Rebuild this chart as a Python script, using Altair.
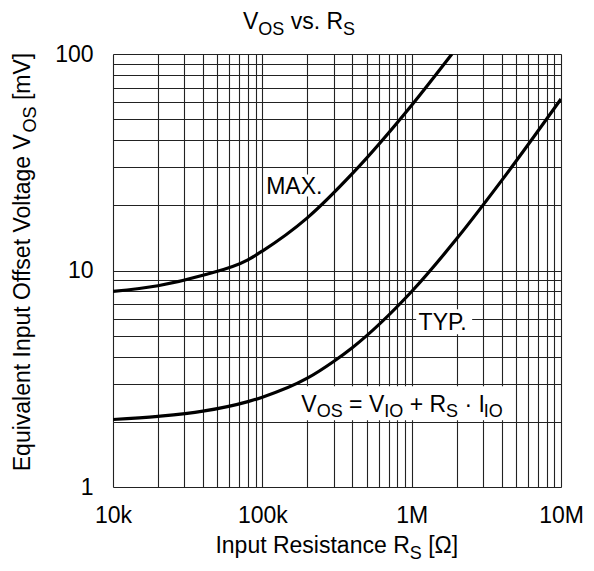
import altair as alt
import pandas as pd

# ---------------- data ----------------
typ_r = [1e4, 2e4, 4e4, 8e4, 1e5, 2e5, 3e5, 4e5, 1e6, 2e6, 4e6, 1e7]
typ_v = [2.05, 2.12, 2.24, 2.48, 2.6, 3.18, 3.8, 4.4, 8.0, 14.0, 26.0, 62.0]
max_r = [1e4, 2e4, 4e4, 8e4, 1e5, 2e5, 4e5, 1e6, 1.86e6]
max_v = [8.0, 8.5, 9.5, 11.2, 12.3, 17.5, 28.0, 58.0, 100.0]

x_grid = [m * 10 ** e for e in (4, 5, 6) for m in range(1, 10)] + [1e7]
y_grid = [m * 10 ** e for e in (0, 1) for m in range(1, 10)] + [100]
x_tick_vals = [1e4, 1e5, 1e6, 1e7]
x_tick_text = ["10k", "100k", "1M", "10M"]
y_tick_vals = [1, 10, 100]
y_tick_text = ["1", "10", "100"]

# annotation anchors (data space)
ann_max = (1.636e5, 24.7)
ann_typ = (1.65e6, 5.8)
ann_eq = (8.62e5, 2.44)

FONT = "Liberation Sans"
FS = 23
SUB = 18
SUB_DY = 5.5

W = {' ': 278, 'V': 667, 'O': 778, 'S': 667, 'v': 500, 's': 500, '.': 278, 'R': 722,
     'E': 667, 'q': 556, 'u': 556, 'i': 222, 'a': 556, 'l': 222, 'e': 556, 'n': 556,
     't': 278, 'I': 278, 'p': 556, 'f': 278, 'g': 556, '[': 278, ']': 278, 'm': 833,
     'Ω': 768, 'c': 500, '=': 584, '+': 584, '·': 278, 'M': 833, 'A': 667, 'X': 667,
     'T': 611, 'Y': 667, 'P': 667, 'k': 500, 'o': 556}


def tw(s, fs):
    return sum(W.get(c, 556) for c in s) * fs / 1000.0


def layout(segs):
    """Return drawn pieces (text without edge spaces, offset, size, sub) and total width."""
    out, off = [], 0.0
    for txt, sub in segs:
        fs = SUB if sub else FS
        lead = len(txt) - len(txt.lstrip(" "))
        core = txt.strip(" ")
        out.append((core, off + tw(" " * lead, fs), fs, sub))
        off += tw(txt, fs)
    return out, off


def ex(e):
    return " : ".join(f"datum.value == {v} ? '{t}'" for v, t in e) + " : ''"


# plot origin on page is (113, 54); plot size 448 x 433
PW, PH = 448, 433
OX, OY = 113, 54

base = alt.Chart(pd.DataFrame({"r": [1e4], "v": [1.0]}))

xscale = alt.Scale(type="log", domain=[1e4, 1e7], nice=False)
yscale = alt.Scale(type="log", domain=[1, 100], nice=False)

xaxis = alt.Axis(values=x_grid, labelExpr=ex(zip(x_tick_vals, x_tick_text)),
                 grid=True, gridColor="#222222", gridWidth=1.1, gridOpacity=1,
                 ticks=False, domain=False, labelFont=FONT, labelFontSize=FS,
                 labelColor="black", labelPadding=17, labelOverlap=False,
                 labelFlush=False, title=None)
yaxis = alt.Axis(values=y_grid, labelExpr=ex(zip(y_tick_vals, y_tick_text)),
                 grid=True, gridColor="#222222", gridWidth=1.1, gridOpacity=1,
                 ticks=False, domain=False, labelFont=FONT, labelFontSize=FS,
                 labelColor="black", labelPadding=20, labelOverlap=False,
                 labelFlush=False, title=None)

grid = base.mark_point(opacity=0).encode(
    x=alt.X("r:Q", scale=xscale, axis=xaxis),
    y=alt.Y("v:Q", scale=yscale, axis=yaxis),
)

curves = pd.DataFrame({
    "r": typ_r + max_r,
    "v": typ_v + max_v,
    "s": ["TYP"] * len(typ_r) + ["MAX"] * len(max_r),
})
lines = alt.Chart(curves).mark_line(color="black", strokeWidth=3.2,
                                    interpolate="monotone", clip=True).encode(
    x=alt.X("r:Q", scale=xscale),
    y=alt.Y("v:Q", scale=yscale),
    detail="s:N",
)

layers = [grid, lines]


def annotation(anchor, segs, box_w, box_h, dy_base):
    items, total = layout(segs)
    d = pd.DataFrame({"r": [anchor[0]], "v": [anchor[1]]})
    ch = alt.Chart(d)
    out = [ch.mark_rect(color="white", xOffset=-box_w / 2, x2Offset=box_w / 2,
                        yOffset=-box_h / 2, y2Offset=box_h / 2).encode(
        x=alt.X("r:Q", scale=xscale), x2="r:Q",
        y=alt.Y("v:Q", scale=yscale), y2="v:Q")]
    for txt, off, fs, sub in items:
        out.append(ch.mark_text(text=txt, font=FONT, fontSize=fs, color="black",
                                align="left", baseline="alphabetic",
                                dx=-total / 2 + off,
                                dy=dy_base + (SUB_DY if sub else 0)).encode(
            x=alt.X("r:Q", scale=xscale), y=alt.Y("v:Q", scale=yscale)))
    return out


layers += annotation(ann_max, [("MAX.", 0)], 58, 22, 8.2)
layers += annotation(ann_typ, [("TYP.", 0)], 56, 25, 8.2)
layers += annotation(ann_eq, [("V", 0), ("OS", 1), (" = V", 0), ("IO", 1),
                              (" + R", 0), ("S", 1), (" · I", 0), ("IO", 1)],
                     212, 34, 8.4)


def htext(segs, cx, base_y):
    items, total = layout(segs)
    out = []
    for txt, off, fs, sub in items:
        out.append(base.mark_text(text=txt, font=FONT, fontSize=fs, color="black",
                                  align="left", baseline="alphabetic").encode(
            x=alt.value(cx - OX - total / 2 + off),
            y=alt.value(base_y - OY + (SUB_DY if sub else 0))))
    return out


def vtext(segs, base_x, cy):
    items, total = layout(segs)
    out = []
    for txt, off, fs, sub in items:
        out.append(base.mark_text(text=txt, font=FONT, fontSize=fs, color="black",
                                  align="left", baseline="alphabetic", angle=270).encode(
            x=alt.value(base_x - OX + (SUB_DY if sub else 0)),
            y=alt.value(cy - OY + total / 2 - off)))
    return out


layers += htext([("V", 0), ("OS", 1), (" vs. R", 0), ("S", 1)], 299, 29)
layers += htext([("Input Resistance R", 0), ("S", 1), (" [Ω]", 0)], 337, 553)
layers += vtext([("Equivalent Input Offset Voltage V", 0), ("OS", 1), (" [mV]", 0)], 30, 262)

chart = alt.layer(*layers).properties(
    width=PW, height=PH,
    autosize=alt.AutoSizeParams(type="none"),
    padding={"left": OX - 8, "top": OY - 8, "right": 594 - 16 - (OX - 8) - PW,
             "bottom": 571 - 16 - (OY - 8) - PH},
).configure_view(stroke="black", strokeWidth=2).configure(background="white")

chart.save("out.html", embed_options={"renderer": "svg", "actions": False})
